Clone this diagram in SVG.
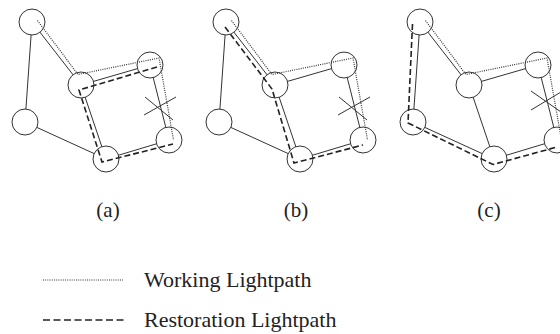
<svg xmlns="http://www.w3.org/2000/svg" width="560" height="334" viewBox="0 0 560 334">
<style>
.node{fill:#fff;stroke:#333;stroke-width:1}
.edge{stroke:#333;stroke-width:1;fill:none}
.work{stroke:#333;stroke-width:1.2;fill:none;stroke-dasharray:1 1.2}
.rest{stroke:#222;stroke-width:1.6;fill:none;stroke-dasharray:6 3}
.x{stroke:#333;stroke-width:1;fill:none}
.lbl{font-family:"Liberation Serif",serif;font-size:21px;fill:#222;text-anchor:middle}
.leg{font-family:"Liberation Serif",serif;font-size:22px;fill:#222}
</style>
<g id="edges">
<path class="edge" d="M32,22L25,122M32,22L81,85M25,122L106,159M81,85L150,65M81,85L106,159M150,65L169,140M169,140L106,159"/>
<path class="edge" d="M226,22L219,122M226,22L275,85M219,122L300,159M275,85L344,65M275,85L300,159M344,65L363,140M363,140L300,159"/>
<path class="edge" d="M420,22L413,122M420,22L469,85M413,122L494,159M469,85L538,65M469,85L494,159M538,65L557,140M557,140L494,159"/>
</g>
<g id="a-A"><circle class="node" cx="32" cy="22" r="13"/></g>
<g id="a-B"><circle class="node" cx="25" cy="122" r="13"/></g>
<g id="a-C"><circle class="node" cx="81" cy="85" r="13"/></g>
<g id="a-D"><circle class="node" cx="150" cy="65" r="13"/></g>
<g id="a-E"><circle class="node" cx="169" cy="140" r="13"/></g>
<g id="a-F"><circle class="node" cx="106" cy="159" r="13"/></g>
<g id="b-A"><circle class="node" cx="226" cy="22" r="13"/></g>
<g id="b-B"><circle class="node" cx="219" cy="122" r="13"/></g>
<g id="b-C"><circle class="node" cx="275" cy="85" r="13"/></g>
<g id="b-D"><circle class="node" cx="344" cy="65" r="13"/></g>
<g id="b-E"><circle class="node" cx="363" cy="140" r="13"/></g>
<g id="b-F"><circle class="node" cx="300" cy="159" r="13"/></g>
<g id="c-A"><circle class="node" cx="420" cy="22" r="13"/></g>
<g id="c-B"><circle class="node" cx="413" cy="122" r="13"/></g>
<g id="c-C"><circle class="node" cx="469" cy="85" r="13"/></g>
<g id="c-D"><circle class="node" cx="538" cy="65" r="13"/></g>
<g id="c-E"><circle class="node" cx="557" cy="140" r="13"/></g>
<g id="c-F"><circle class="node" cx="494" cy="159" r="13"/></g>
<g id="lightpaths">
<path class="work" d="M37.5,20.5L78,74.5L159,58L173.5,140"/>
<path class="rest" d="M157,67L79,90L102,162L173,144"/>
<path class="work" d="M231.5,20.5L272,74.5L353,58L367.5,140"/>
<path class="rest" d="M225,27L272,89L294,163L363,145"/>
<path class="work" d="M425.5,20.5L466,74.5L547,58L561.5,140"/>
<path class="rest" d="M412.5,24L408,123L493,164.5L557,147"/>
</g>
<g id="failures">
<path class="x" d="M145,97L173,120M144,115L176,97"/>
<path class="x" d="M339,97L367,120M338,115L370,97"/>
<path class="x" d="M531,91L561,112M531,110L561,92"/>
</g>
<g id="labels">
<text class="lbl" x="108" y="217">(a)</text>
<text class="lbl" x="296" y="217">(b)</text>
<text class="lbl" x="489" y="217">(c)</text>
</g>
<g id="legend">
<line class="work" x1="43" y1="280" x2="123" y2="280" style="stroke-width:1"/>
<text class="leg" x="144" y="287">Working Lightpath</text>
<line class="rest" x1="43" y1="320" x2="124" y2="320" style="stroke-dasharray:7 3.5"/>
<text class="leg" x="144" y="327">Restoration Lightpath</text>
</g>
</svg>
